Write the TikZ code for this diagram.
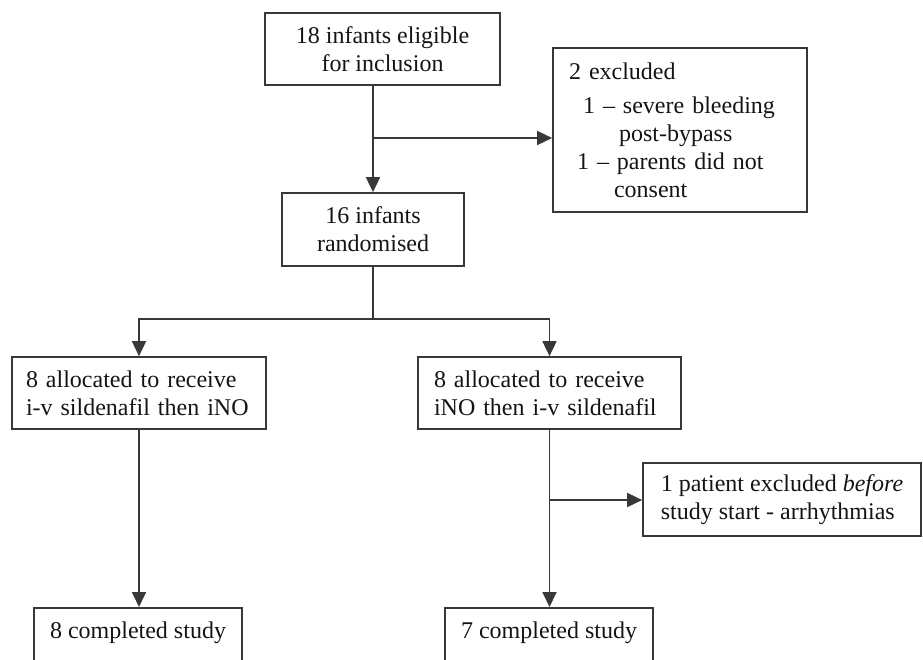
\documentclass[tikz,border=0pt]{standalone}
\usepackage{fontspec}
\setmainfont{Liberation Serif}
\usetikzlibrary{arrows.meta}
\usetikzlibrary{positioning}

\begin{document}
\begin{tikzpicture}[->,>={Triangle[length=15pt,width=14pt]},x=1pt,y=-1pt,line width=1.7pt,draw=black!78,text=black!92]
\tikzstyle{box}=[rectangle,draw,inner ysep=0pt,font=\fontsize{24}{28}\selectfont]
\tikzstyle{mid}=[box,align=center]
\tikzstyle{side}=[box,align=left]
\useasboundingbox (0,0) rectangle (923,659);
\node[mid,minimum width=235pt,minimum height=72pt] (elig) at (382.5,49) {18 infants eligible\\for inclusion};
\node[side,inner xsep=16pt,text width=222pt,minimum height=164pt] (excl) at (680,130) {2 excluded\\[6pt]
  \hspace*{14pt}1 – severe bleeding\\\hspace*{50pt}post-bypass\\
  \hspace*{8pt}1 – parents did not\\\hspace*{45pt}consent};
\node[mid,minimum width=182pt,minimum height=73pt] (rand) at (373,229.5) {16 infants\\randomised};
\node[side,inner xsep=14pt,text width=226pt,minimum height=72pt] (silfirst) at (139,393) {8 allocated to receive\\i-v sildenafil then iNO};
\node[side,inner xsep=16pt,text width=231pt,minimum height=72pt] (nofirst) at (549.5,393) {8 allocated to receive\\iNO then i-v sildenafil};
\node[side,minimum width=278pt,minimum height=73pt] (drop) at (782,499.5) {1 patient excluded \textit{before}\\study start - arrhythmias};
\node[mid,minimum width=208pt,anchor=north,inner ysep=14.6pt,text height=16.4pt,text depth=80pt] (donea) at (138,607) {8 completed study};
\node[mid,minimum width=208pt,anchor=north,inner ysep=14.6pt,text height=16.4pt,text depth=80pt] (doneb) at (549,607) {7 completed study};
\coordinate (s1) at (373,138);
\coordinate (s2) at (373,319);
\coordinate (s3) at (549.5,500);
\draw (elig.south -| s1) -- (rand.north);
\draw (s1) -- (s1 -| excl.west);
\draw[-] (rand.south) -- (s2);
\draw (s2) -| (silfirst.north);
\draw (s2) -| (nofirst.north);
\draw (silfirst.south) -- (silfirst.south |- donea.north);
\draw (nofirst.south) -- (nofirst.south |- doneb.north);
\draw (s3) -- (s3 -| drop.west);
\end{tikzpicture}
\end{document}
